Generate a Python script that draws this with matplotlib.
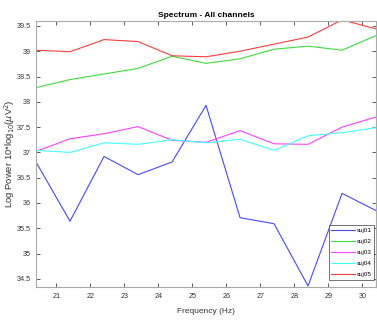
import matplotlib
matplotlib.use("Agg")
import matplotlib.pyplot as plt

# Frequency bins (Hz)
freqs = [20.4, 21.4, 22.4, 23.4, 24.4, 25.4, 26.4, 27.4, 28.4, 29.4, 30.4]

# Log power per subject, 10*log10(uV^2)
suj01 = [36.81, 35.64, 36.92, 36.56, 36.81, 37.93, 35.71, 35.59, 34.36, 36.19, 35.85]
suj02 = [38.28, 38.44, 38.55, 38.66, 38.90, 38.76, 38.85, 39.04, 39.10, 39.02, 39.31]
suj03 = [37.02, 37.27, 37.37, 37.51, 37.24, 37.20, 37.43, 37.17, 37.16, 37.50, 37.70]
suj04 = [37.04, 37.00, 37.19, 37.16, 37.25, 37.19, 37.26, 37.04, 37.33, 37.39, 37.49]
suj05 = [39.02, 38.99, 39.23, 39.19, 38.91, 38.89, 39.00, 39.14, 39.28, 39.62, 39.44]

labels = ["suj01", "suj02", "suj03", "suj04", "suj05"]
colors = ["#4848ff", "#3fdc3f", "#ff40ff", "#40ffff", "#ff3c3c"]

xticks = [21, 22, 23, 24, 25, 26, 27, 28, 29, 30]
yticks = [34.5, 35, 35.5, 36, 36.5, 37, 37.5, 38, 38.5, 39, 39.5]

plt.rcParams["font.family"] = ["Liberation Sans", "DejaVu Sans"]

fig = plt.figure(figsize=(3.77, 3.21), dpi=100)
ax = fig.add_axes([0.0955, 0.106, 0.902, 0.829])

for series, lab, col in zip([suj01, suj02, suj03, suj04, suj05], labels, colors):
    ax.plot(freqs, series, color=col, lw=0.8, label=lab)

ax.set_xlim(20.4, 30.4)
ax.set_ylim(34.34, 39.6)
ax.set_xticks(xticks)
ax.set_xticklabels([str(t) for t in xticks])
ax.set_yticks(yticks)
ax.set_yticklabels([f"{t:g}" for t in yticks])

ax.tick_params(direction="in", length=3, width=0.6, labelsize=5.2,
               top=True, right=True, colors="#444444", labelcolor="#333333", pad=4)
for sp in ax.spines.values():
    sp.set_color("#aaaaaa")
    sp.set_linewidth(0.8)

ax.set_title("Spectrum - All channels", fontsize=6, fontweight="bold", pad=3)
ax.set_xlabel("Frequency (Hz)", fontsize=6, color="#333333", labelpad=6)
ax.set_ylabel(r"Log Power 10*log$_{10}$($\mu$V$^2$)", fontsize=6.8, color="#333333")
ax.yaxis.set_label_coords(-0.056, 0.5)

leg = ax.legend(loc="lower right", fontsize=4.5, frameon=True, fancybox=False,
                borderaxespad=0.3, handlelength=3.8, labelspacing=0.9,
                borderpad=0.4, handletextpad=0.3, bbox_to_anchor=(1.0, 0.02))
leg.get_frame().set_edgecolor("#333333")
leg.get_frame().set_linewidth(0.6)

fig.savefig("out.png", dpi=100)
